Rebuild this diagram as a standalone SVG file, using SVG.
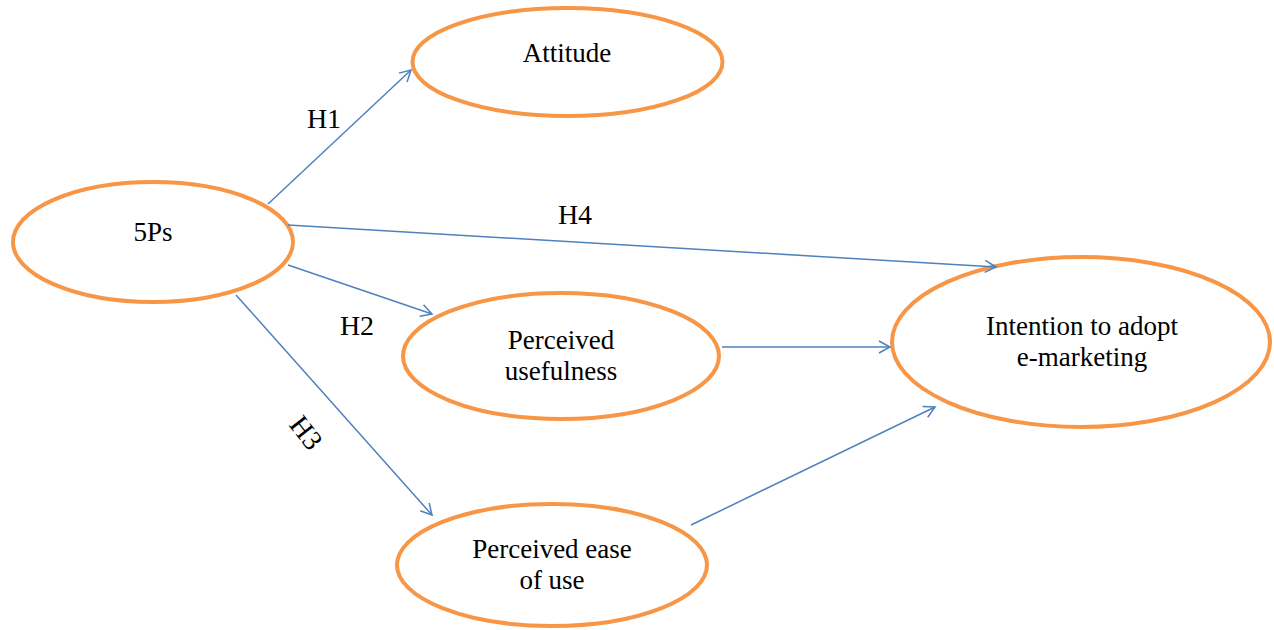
<svg xmlns="http://www.w3.org/2000/svg" width="1274" height="630" viewBox="0 0 1274 630">
<style>
.node ellipse{fill:#fff;stroke:#F79646;stroke-width:4}
text{font-family:'Liberation Serif','DejaVu Serif',serif;font-size:27px;fill:#000;text-anchor:middle}
#labels text{font-size:28px}
.conn line{stroke:#4F81BD;stroke-width:1.5;marker-end:url(#arr)}
</style>
<defs>
<marker id="arr" markerWidth="14" markerHeight="14" refX="12" refY="7" orient="auto" markerUnits="userSpaceOnUse">
<path d="M1,1 L12,7 L1,13" fill="none" stroke="#4F81BD" stroke-width="1.5"/>
</marker>
</defs>
<g id="n-attitude" class="node"><ellipse cx="567.5" cy="62" rx="155" ry="54"/><text x="567" y="62">Attitude</text></g>
<g id="n-5ps" class="node"><ellipse cx="153" cy="242" rx="140" ry="60"/><text x="153" y="241">5Ps</text></g>
<g id="n-pu" class="node"><ellipse cx="561" cy="356" rx="158" ry="63"/><text x="561" y="349">Perceived</text><text x="561" y="380">usefulness</text></g>
<g id="n-peu" class="node"><ellipse cx="552" cy="565" rx="155" ry="61"/><text x="552" y="558">Perceived ease</text><text x="552" y="589">of use</text></g>
<g id="n-int" class="node"><ellipse cx="1081" cy="342" rx="189" ry="85"/><text x="1082" y="335">Intention to adopt</text><text x="1082" y="366">e-marketing</text></g>
<g id="connectors" class="conn">
<line x1="268" y1="204" x2="411" y2="70"/>
<line x1="288" y1="225" x2="996" y2="267"/>
<line x1="288" y1="265" x2="432" y2="314"/>
<line x1="236" y1="295" x2="432" y2="515"/>
<line x1="722" y1="347" x2="890" y2="347"/>
<line x1="691" y1="525" x2="935" y2="407"/>
</g>
<g id="labels">
<text x="324" y="128">H1</text>
<text x="575" y="224">H4</text>
<text x="357" y="335">H2</text>
<text x="0" y="9" transform="translate(306,433) rotate(52)">H3</text>
</g>
</svg>
